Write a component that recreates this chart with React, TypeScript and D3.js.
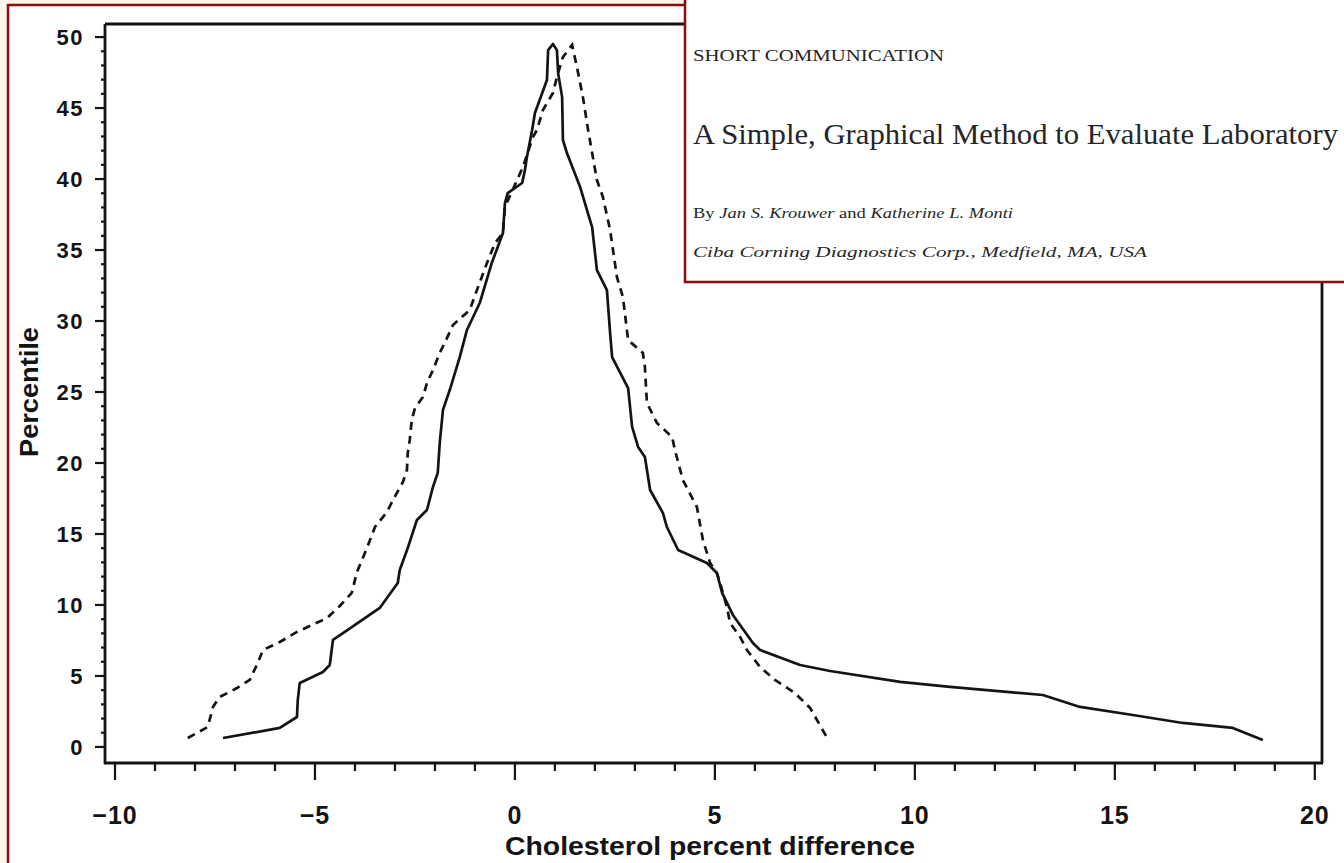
import React from "react";
import * as d3 from "d3";

// Percentile curves of cholesterol percent difference (folded empirical CDF)
const solidDiff = [
  -7.3, -5.88, -5.45, -5.43, -5.38, -4.8, -4.63, -4.55, -4.18, -3.38, -2.93, -2.88, -2.68, -2.45,
  -2.2, -2.05, -1.93, -1.88, -1.8, -1.63, -1.38, -1.2, -0.88, -0.58, -0.3, -0.25, -0.18, 0.18, 0.25,
  0.3, 0.43, 0.5, 0.8, 0.83, 0.95, 1.05, 1.08, 1.18, 1.2, 1.3, 1.63, 1.8, 1.93, 2.05, 2.3, 2.38, 2.43,
  2.83, 2.93, 3.08, 3.25, 3.38, 3.7, 3.8, 4.08, 4.8, 5.05, 5.18, 5.45, 5.95, 6.13, 7.13, 7.88, 9.63,
  10.88, 13.2, 14.13, 15.45, 16.7, 17.95, 18.2, 18.7,
];
const solidPct = [
  0.63, 1.34, 2.11, 3.3, 4.51, 5.28, 5.77, 7.54, 8.24, 9.79, 11.55, 12.46, 14.01, 15.99,
  16.69, 18.31, 19.3, 21.41, 23.73, 25.14, 27.46, 29.37, 31.27, 34.08, 36.2, 38.31, 39.01, 39.72, 40.63,
  41.55, 43.45, 44.65, 46.97, 49.08, 49.51, 49.08, 47.46, 45.77, 42.75, 41.83, 39.44, 37.82, 36.62, 33.59, 32.18, 29.15, 27.46,
  25.28, 22.54, 21.13, 20.42, 18.1, 16.48, 15.49, 13.87, 12.96, 12.25, 10.85, 9.3, 7.32, 6.83, 5.77, 5.35, 4.58,
  4.23, 3.66, 2.82, 2.25, 1.69, 1.34, 1.06, 0.49,
];

const dashedDiff = [
  -8.18, -7.68, -7.55, -7.38, -6.95, -6.63, -6.43, -6.3, -5.88, -5.45, -4.7, -4.38, -4.08, -3.95,
  -3.7, -3.5, -3.2, -3.05, -2.8, -2.7, -2.68, -2.63, -2.58, -2.5, -2.3, -2.2, -2.05, -1.88, -1.7,
  -1.55, -1.13, -0.95, -0.7, -0.5, -0.3, -0.25, 0.2, 0.45, 0.55, 0.7, 0.95, 1.05, 1.2, 1.43, 1.55,
  1.7, 1.83, 2.05, 2.2, 2.38, 2.55, 2.7, 2.83, 3.2, 3.25, 3.3, 3.55, 3.93, 4.0, 4.2, 4.55, 4.7, 4.88,
  5.05, 5.13, 5.3, 5.38, 5.63, 5.8, 6.13, 6.5, 7.0, 7.38, 7.78,
];
const dashedPct = [
  0.63, 1.41, 2.82, 3.52, 4.15, 4.72, 5.92, 6.83, 7.39, 8.1, 9.08, 9.93, 10.85, 12.32,
  14.01, 15.49, 16.55, 17.39, 18.66, 19.51, 20.7, 21.62, 23.03, 23.87, 24.65, 25.63, 26.55, 27.75, 28.8,
  29.72, 30.77, 32.18, 34.08, 35.49, 36.2, 38.03, 40.85, 42.96, 43.45, 44.86, 46.06, 47.18, 48.59, 49.44, 47.89,
  45.77, 43.45, 39.93, 38.73, 36.41, 33.1, 31.69, 28.66, 27.75, 26.76, 24.23, 22.82, 21.83, 20.92, 18.8, 16.9, 14.58, 12.96,
  12.25, 11.55, 9.86, 8.73, 7.75, 6.83, 5.63, 4.72, 3.8, 2.75, 0.77,
];

const xTickValues = [-10, -5, 0, 5, 10, 15, 20];
const yTickValues = [0, 5, 10, 15, 20, 25, 30, 35, 40, 45, 50];

const xTitle = "Cholesterol percent difference";
const yTitle = "Percentile";

const headerKicker = "SHORT COMMUNICATION";
const headerTitle = "A Simple, Graphical Method to Evaluate Laboratory";
const headerAffiliation = "Ciba Corning Diagnostics Corp., Medfield, MA, USA";

const W = 1344;
const H = 863;
const left = 105;
const right = 1322;
const top = 24;
const bottom = 763;
const ink = "#141414";
const frameRed = "#8a0c0c";

export default function App() {
  const x = d3.scaleLinear().domain([-10.25, 20.18]).range([left, right]);
  const y = d3.scaleLinear().domain([-1.13, 50.92]).range([bottom, top]);

  const line = d3
    .line<[number, number]>()
    .x((d) => x(d[0]))
    .y((d) => y(d[1]))
    .curve(d3.curveLinear);

  const solidPts = solidDiff.map((v, i) => [v, solidPct[i]] as [number, number]);
  const dashedPts = dashedDiff.map((v, i) => [v, dashedPct[i]] as [number, number]);

  const xMinor = d3.range(-10, 21, 1);
  const yMinor = d3.range(0, 51, 1);
  const sans = "'Liberation Sans', Arial, Helvetica, sans-serif";
  const serif = "'Liberation Serif', 'Times New Roman', Times, serif";

  return (
    <svg
      width={W}
      height={H}
      viewBox={`0 0 ${W} ${H}`}
      style={{ position: "absolute", left: 0, top: 0, display: "block" }}
    >
      <rect x={0} y={0} width={W} height={H} fill="#fdf5ea" />
      <rect x={8} y={5} width={W + 20} height={H + 20} fill="#ffffff" stroke={frameRed} strokeWidth={2.5} />

      {/* plot frame */}
      <g stroke={ink} strokeWidth={2.8} fill="none">
        <line x1={left} y1={top} x2={right} y2={top} />
        <line x1={right} y1={top} x2={right} y2={bottom} />
        <line x1={left} y1={top} x2={left} y2={bottom + 1} />
        <line x1={left - 1} y1={bottom} x2={right + 1} y2={bottom} />
      </g>

      {/* y ticks */}
      <g stroke={ink} strokeWidth={2.2}>
        {yMinor.map((v) => (
          <line key={`ym${v}`} x1={left - (v % 5 === 0 ? 10 : 4)} x2={left} y1={y(v)} y2={y(v)} />
        ))}
      </g>
      <g fontFamily={sans} fontWeight="bold" fontSize={22} fill={ink} textAnchor="end" letterSpacing={1.5}>
        {yTickValues.map((v) => (
          <text key={`yl${v}`} x={84} y={y(v)} dy="0.36em">
            {v}
          </text>
        ))}
      </g>

      {/* x ticks */}
      <g stroke={ink} strokeWidth={2.2}>
        {xMinor.map((v) => (
          <line key={`xm${v}`} x1={x(v)} x2={x(v)} y1={bottom} y2={bottom + (v % 5 === 0 ? 17 : 8)} />
        ))}
      </g>
      <g fontFamily={sans} fontWeight="bold" fontSize={25} fill={ink} textAnchor="middle" letterSpacing={1}>
        {xTickValues.map((v) => (
          <text key={`xl${v}`} x={x(v)} y={824}>
            {v < 0 ? `\u2212${Math.abs(v)}` : v}
          </text>
        ))}
      </g>

      <text
        x={710}
        y={855}
        textAnchor="middle"
        fontFamily={sans}
        fontWeight="bold"
        fontSize={25}
        fill={ink}
        textLength={410}
        lengthAdjust="spacingAndGlyphs"
      >
        {xTitle}
      </text>
      <text
        transform={`translate(38, 392) rotate(-90)`}
        textAnchor="middle"
        fontFamily={sans}
        fontWeight="bold"
        fontSize={26}
        fill={ink}
        textLength={130}
        lengthAdjust="spacingAndGlyphs"
      >
        {yTitle}
      </text>

      {/* curves */}
      <path d={line(dashedPts) ?? ""} fill="none" stroke={ink} strokeWidth={2.7} strokeDasharray="8 6" />
      <path d={line(solidPts) ?? ""} fill="none" stroke={ink} strokeWidth={2.7} strokeLinejoin="round" />

      {/* article header panel */}
      <rect x={685} y={-10} width={W} height={292} fill="#ffffff" stroke={frameRed} strokeWidth={2.5} />
      <g fontFamily={serif} fill="#262626">
        <text x={693} y={61} fontSize={17} textLength={251} lengthAdjust="spacingAndGlyphs">
          {headerKicker}
        </text>
        <text x={693} y={144} fontSize={29} textLength={645} lengthAdjust="spacingAndGlyphs">
          {headerTitle}
        </text>
        <text x={693} y={218} fontSize={15} textLength={320} lengthAdjust="spacingAndGlyphs">
          <tspan>By </tspan>
          <tspan fontStyle="italic">Jan S. Krouwer</tspan>
          <tspan> and </tspan>
          <tspan fontStyle="italic">Katherine L. Monti</tspan>
        </text>
        <text x={693} y={257} fontSize={15} fontStyle="italic" textLength={454} lengthAdjust="spacingAndGlyphs">
          {headerAffiliation}
        </text>
      </g>
    </svg>
  );
}
